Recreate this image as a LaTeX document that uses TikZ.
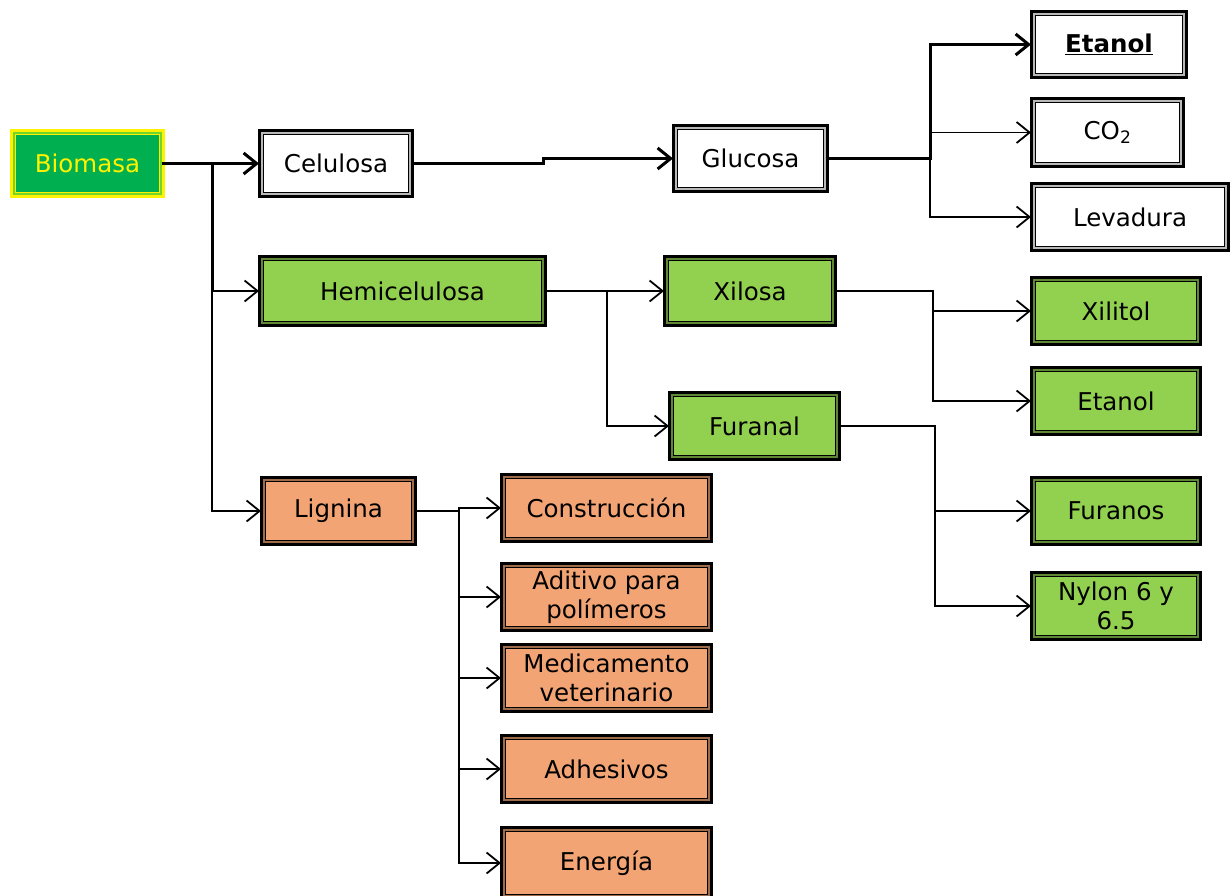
\documentclass[tikz,border=0pt]{standalone}
\usepackage{fontspec}
\setmainfont{DejaVu Sans}
\usetikzlibrary{arrows.meta}
\definecolor{leafgreen}{HTML}{92D050}
\definecolor{deepgreen}{HTML}{00B050}
\definecolor{salmonfill}{HTML}{F3A474}
\newcommand\boxfont{\fontsize{24.5}{29.5}\selectfont}
\tikzset{
  boxbase/.style={rectangle, inner sep=0pt, align=center, font=\boxfont,
    draw=black, line width=1pt, double distance=1.6pt},
  whitebox/.style={boxbase, fill=white, double=gray!55},
  greenbox/.style={boxbase, fill=leafgreen, double=leafgreen!65!black},
  orangebox/.style={boxbase, fill=salmonfill, double=salmonfill!65!black},
  rootbox/.style={boxbase, draw=yellow, double=deepgreen!55!yellow,
    fill=deepgreen, text=yellow},
  outerframe/.style={draw=#1, line width=2.6pt},
  thickline/.style={line width=3pt},
  thinline/.style={line width=1.8pt},
  arrowtip/.style={-{Straight Barb[length=13pt,width=21pt]}}
}
\begin{document}
\begin{tikzpicture}[x=1pt,y=-1pt]
\useasboundingbox (0,0) rectangle (1232,895);

% root
\node[rootbox, minimum width=147, minimum height=61] (bio) at (87.5,163.5) {Biomasa};

% cellulose branch
\node[whitebox, minimum width=148, minimum height=61] (cel) at (336,163.5) {Celulosa};
\node[whitebox, minimum width=149, minimum height=61] (glu) at (750.5,158.5) {Glucosa};
\node[whitebox, minimum width=150, minimum height=61] (eta1) at (1109,44.5) {\textbf{\underline{Etanol}}};
\node[whitebox, minimum width=147, minimum height=63] (co2) at (1107.5,132.5) {CO\textsubscript{2}};
\node[whitebox, minimum width=192, minimum height=62] (lev) at (1130,217) {Levadura};

% hemicellulose branch
\node[greenbox, minimum width=281, minimum height=64] (hem) at (402.5,291) {Hemicelulosa};
\node[greenbox, minimum width=166, minimum height=64] (xis) at (750,291) {Xilosa};
\node[greenbox, minimum width=165, minimum height=62] (fal) at (754.5,426) {Furanal};
\node[greenbox, minimum width=164, minimum height=62] (xit) at (1116,311) {Xilitol};
\node[greenbox, minimum width=164, minimum height=62] (eta2) at (1116,401) {Etanol};
\node[greenbox, minimum width=164, minimum height=62] (fus) at (1116,511) {Furanos};
\node[greenbox, minimum width=164, minimum height=62] (nyl) at (1116,606) {Nylon 6 y\\6.5};

% lignin branch
\node[orangebox, minimum width=149, minimum height=62] (lig) at (338.5,511) {Lignina};
\node[orangebox, minimum width=205, minimum height=62] (con) at (606.5,508) {Construcción};
\node[orangebox, minimum width=205, minimum height=62] (adi) at (606.5,597) {Aditivo para\\polímeros};
\node[orangebox, minimum width=205, minimum height=62] (med) at (606.5,678) {Medicamento\\veterinario};
\node[orangebox, minimum width=205, minimum height=62] (adh) at (606.5,769) {Adhesivos};
\node[orangebox, minimum width=205, minimum height=66] (ene) at (606.5,863) {Energía};

% heavy outer frame around every box
\draw[outerframe=yellow] ([xshift=-2.2pt,yshift=2.2pt]bio.north west) rectangle ([xshift=2.2pt,yshift=-2.2pt]bio.south east);
\foreach \n in {cel,glu,eta1,co2,lev,hem,xis,fal,xit,eta2,fus,nyl,lig,con,adi,med,adh,ene}
  \draw[outerframe=black] ([xshift=-2.2pt,yshift=2.2pt]\n.north west) rectangle ([xshift=2.2pt,yshift=-2.2pt]\n.south east);

% junction points
\coordinate (jb) at (212,163.5);
\coordinate (jh) at (212,291);
\coordinate (jc) at (543,160);
\coordinate (jg) at (930,158.5);
\coordinate (jhx) at (607,291);
\coordinate (jx) at (933,291);
\coordinate (jf) at (935,426);
\coordinate (jl) at (459,511);

% connectors
\draw[thickline, arrowtip] (bio.east) -- (jb) -- ([xshift=-2.5pt]cel.west);
\draw[thickline] (jb) -- (jh);
\draw[thinline, arrowtip] (jh) -- ([xshift=-2.5pt]hem.west);
\draw[thinline, arrowtip] (jh) |- ([xshift=-2.5pt]lig.west);

\draw[thickline, arrowtip] (cel.east) -| (jc) |- ([xshift=-2.5pt]glu.west);
\draw[thickline, arrowtip] (glu.east) -- (jg) |- ([xshift=-2.5pt]eta1.west);
\draw[thinline, arrowtip] (jg) |- ([xshift=-2.5pt]co2.west);
\draw[thinline, arrowtip] (jg) |- ([xshift=-2.5pt]lev.west);

\draw[thinline, arrowtip] (hem.east) -- (jhx) -- ([xshift=-2.5pt]xis.west);
\draw[thinline, arrowtip] (jhx) |- ([xshift=-2.5pt]fal.west);
\draw[thinline, arrowtip] (xis.east) -- (jx) |- ([xshift=-2.5pt]xit.west);
\draw[thinline, arrowtip] (jx) |- ([xshift=-2.5pt]eta2.west);
\draw[thinline, arrowtip] (fal.east) -- (jf) |- ([xshift=-2.5pt]fus.west);
\draw[thinline, arrowtip] (jf) |- ([xshift=-2.5pt]nyl.west);

\draw[thinline, arrowtip] (lig.east) -- (jl) |- ([xshift=-2.5pt]con.west);
\draw[thinline, arrowtip] (jl) |- ([xshift=-2.5pt]adi.west);
\draw[thinline, arrowtip] (jl) |- ([xshift=-2.5pt]med.west);
\draw[thinline, arrowtip] (jl) |- ([xshift=-2.5pt]adh.west);
\draw[thinline, arrowtip] (jl) |- ([xshift=-2.5pt]ene.west);
\end{tikzpicture}
\end{document}
